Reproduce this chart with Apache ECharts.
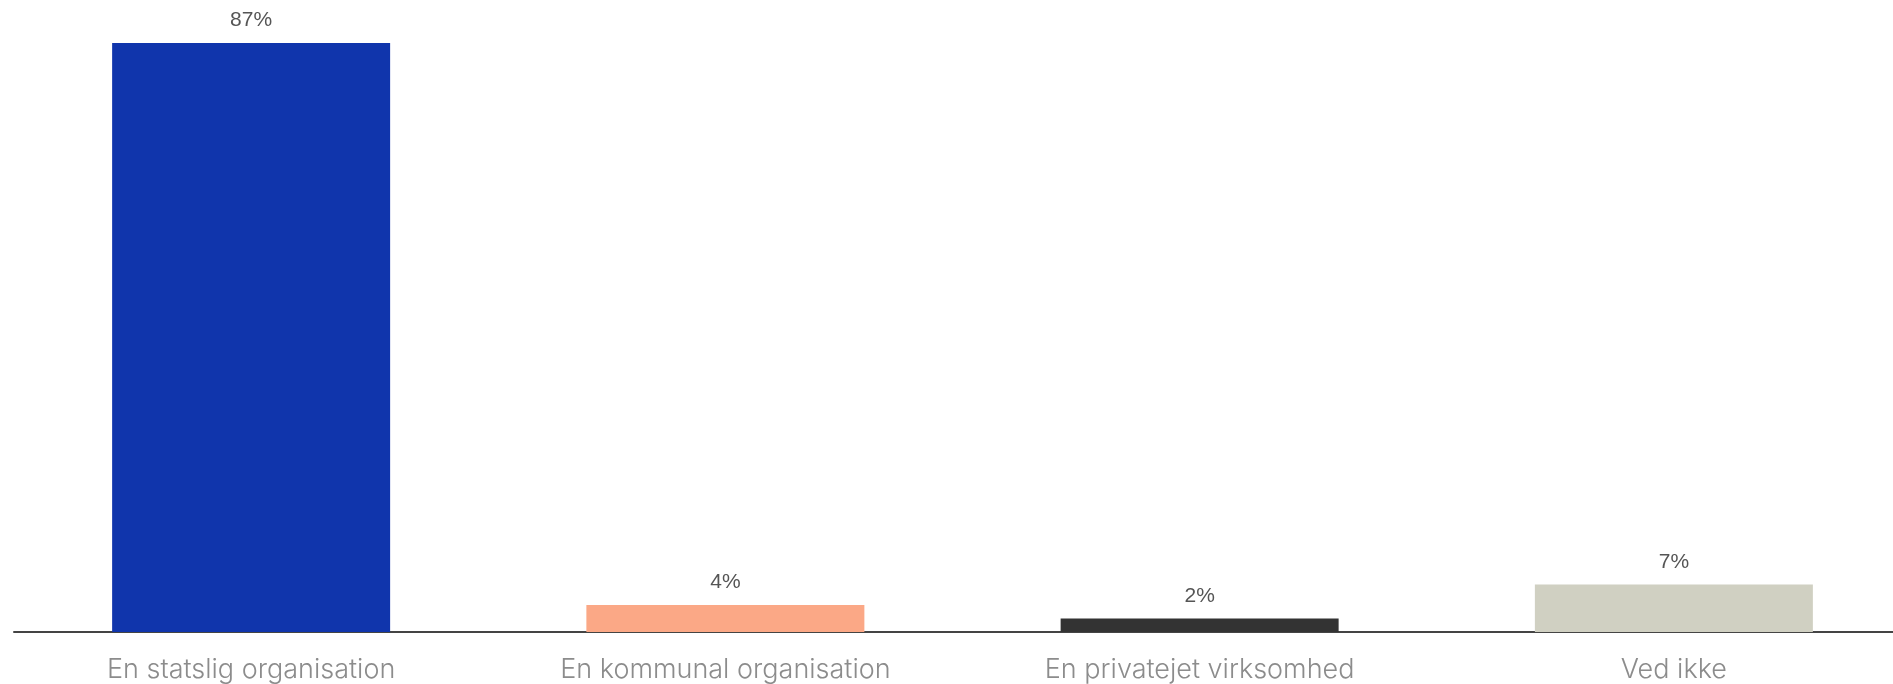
<!DOCTYPE html>
<html>
<head>
<meta charset="utf-8">
<script src="https://cdn.jsdelivr.net/npm/echarts@6/dist/echarts.min.js"></script>
<style>
html,body{margin:0;padding:0;background:#fff;}
#chart{width:1893px;height:684px;}
</style>
</head>
<body>
<div id="chart"></div>
<script>
const categories = ["En statslig organisation", "En kommunal organisation", "En privatejet virksomhed", "Ved ikke"];
const values = [87, 4, 2, 7];
const colors = ["#1035AC", "#FBA886", "#333333", "#D0D0C2"];

const chart = echarts.init(document.getElementById('chart'));
chart.setOption({
  animation: false,
  grid: {left: 14, right: -18, top: 43, bottom: 52, containLabel: false, outerBoundsMode: 'none'},
  xAxis: {
    type: 'category',
    data: categories,
    axisLine: {show: true, lineStyle: {color: '#444', width: 2}},
    axisTick: {show: false},
    axisLabel: {color: '#8c8c8c', fontFamily: 'Inter', fontWeight: 300, fontSize: 27, margin: 24}
  },
  yAxis: {
    type: 'value', min: 0, max: 87,
    show: false, splitLine: {show: false}
  },
  series: [{
    type: 'bar',
    barWidth: 278,
    data: values.map((v, i) => ({value: v, itemStyle: {color: colors[i]}})),
    label: {
      show: true, position: 'top', distance: 12,
      formatter: p => p.value + '%',
      color: '#555', fontFamily: 'Liberation Sans', fontSize: 21
    }
  }]
});
</script>
</body>
</html>
